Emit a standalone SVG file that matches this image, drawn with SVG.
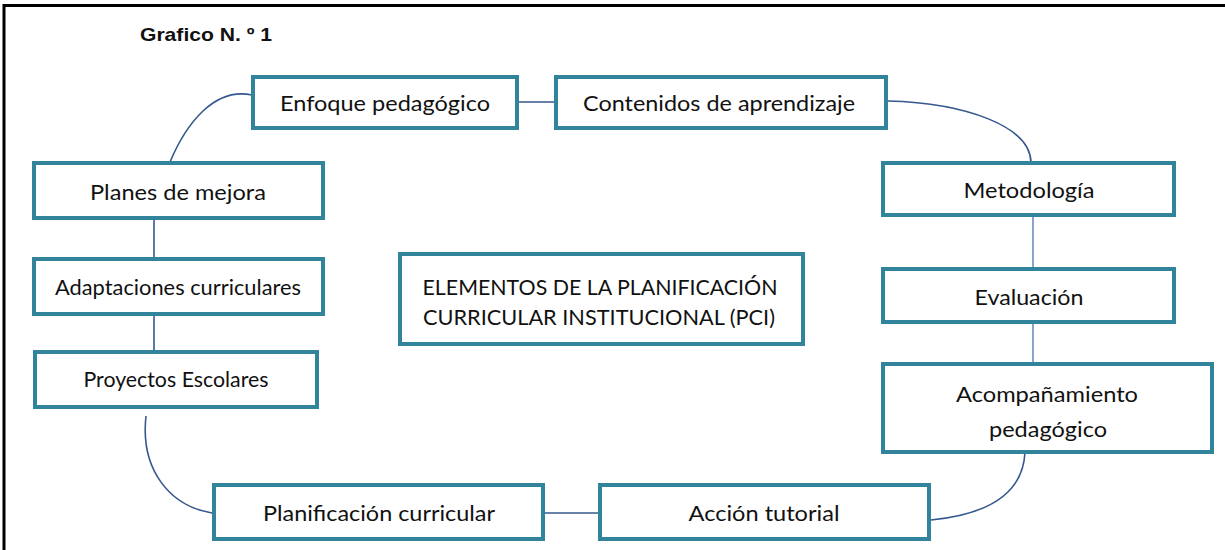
<svg xmlns="http://www.w3.org/2000/svg" width="1225" height="550" viewBox="0 0 1225 550">
<style>
.box{fill:#ffffff;stroke:#31849B;stroke-width:4}
.t{font-family:Lato,"Open Sans","Liberation Sans",sans-serif;font-size:22px;fill:#111111;text-anchor:middle}
.c{fill:none;stroke:#35588f;stroke-width:1.6}
.cl{fill:none;stroke:#7c9bc6;stroke-width:1.8}
.title{font-family:"Liberation Sans",Arial,sans-serif;font-weight:bold;font-size:18.5px;fill:#111111}
</style>
<rect width="1225" height="550" fill="#ffffff"/>
<path d="M4,550 V5.5 H1225" fill="none" stroke="#000000" stroke-width="3"/>
<text class="title" x="140" y="41" textLength="132" lengthAdjust="spacingAndGlyphs">Grafico N. º 1</text>
<g id="connectors">
<path class="c" d="M170,162 C186,124 214,87 252,95"/>
<line class="c" x1="517" y1="102" x2="556" y2="102"/>
<path class="c" d="M888,101 C965,103 1031,126 1031,163"/>
<line class="cl" x1="1033" y1="215" x2="1033" y2="269"/>
<line class="cl" x1="1033" y1="322" x2="1033" y2="364"/>
<path class="c" d="M1025,452 C1023,497 982,515 931,520"/>
<line class="c" x1="543" y1="513" x2="600" y2="513"/>
<path class="c" d="M146,416 C140,470 170,506 212,513"/>
<line class="c" x1="154" y1="314" x2="154" y2="352"/>
<line class="c" x1="154" y1="218" x2="154" y2="259"/>
</g>
<g id="n-enfoque">
<rect class="box" x="253" y="77" width="264" height="51"/>
<text class="t" x="385" y="111" textLength="210" lengthAdjust="spacingAndGlyphs">Enfoque pedagógico</text>
</g>
<g id="n-contenidos">
<rect class="box" x="556" y="77" width="330" height="51"/>
<text class="t" x="719" y="111" textLength="272" lengthAdjust="spacingAndGlyphs">Contenidos de aprendizaje</text>
</g>
<g id="n-metodologia">
<rect class="box" x="883" y="163" width="291" height="52"/>
<text class="t" x="1029" y="198" textLength="131" lengthAdjust="spacingAndGlyphs">Metodología</text>
</g>
<g id="n-evaluacion">
<rect class="box" x="883" y="269" width="291" height="53"/>
<text class="t" x="1029" y="305" textLength="109" lengthAdjust="spacingAndGlyphs">Evaluación</text>
</g>
<g id="n-acompanamiento">
<rect class="box" x="883" y="364" width="329" height="88"/>
<text class="t" x="1047" y="402" textLength="182" lengthAdjust="spacingAndGlyphs">Acompañamiento</text>
<text class="t" x="1048" y="437" textLength="118" lengthAdjust="spacingAndGlyphs">pedagógico</text>
</g>
<g id="n-accion">
<rect class="box" x="600" y="485" width="329" height="54"/>
<text class="t" x="764" y="521" textLength="151" lengthAdjust="spacingAndGlyphs">Acción tutorial</text>
</g>
<g id="n-planificacion">
<rect class="box" x="214" y="485" width="329" height="54"/>
<text class="t" x="379" y="521" textLength="232" lengthAdjust="spacingAndGlyphs">Planificación curricular</text>
</g>
<g id="n-proyectos">
<rect class="box" x="35" y="352" width="282" height="55"/>
<text class="t" x="176" y="387" textLength="185" lengthAdjust="spacingAndGlyphs">Proyectos Escolares</text>
</g>
<g id="n-adaptaciones">
<rect class="box" x="34" y="259" width="289" height="55"/>
<text class="t" x="178" y="295" textLength="246" lengthAdjust="spacingAndGlyphs">Adaptaciones curriculares</text>
</g>
<g id="n-planes">
<rect class="box" x="34" y="163" width="289" height="55"/>
<text class="t" x="178" y="200" textLength="176" lengthAdjust="spacingAndGlyphs">Planes de mejora</text>
</g>
<g id="n-centro">
<rect class="box" x="400" y="254" width="403" height="90"/>
<text class="t" x="600" y="295" textLength="355" lengthAdjust="spacingAndGlyphs">ELEMENTOS DE LA PLANIFICACIÓN</text>
<text class="t" x="599" y="325" textLength="352" lengthAdjust="spacingAndGlyphs">CURRICULAR INSTITUCIONAL (PCI)</text>
</g>
</svg>
